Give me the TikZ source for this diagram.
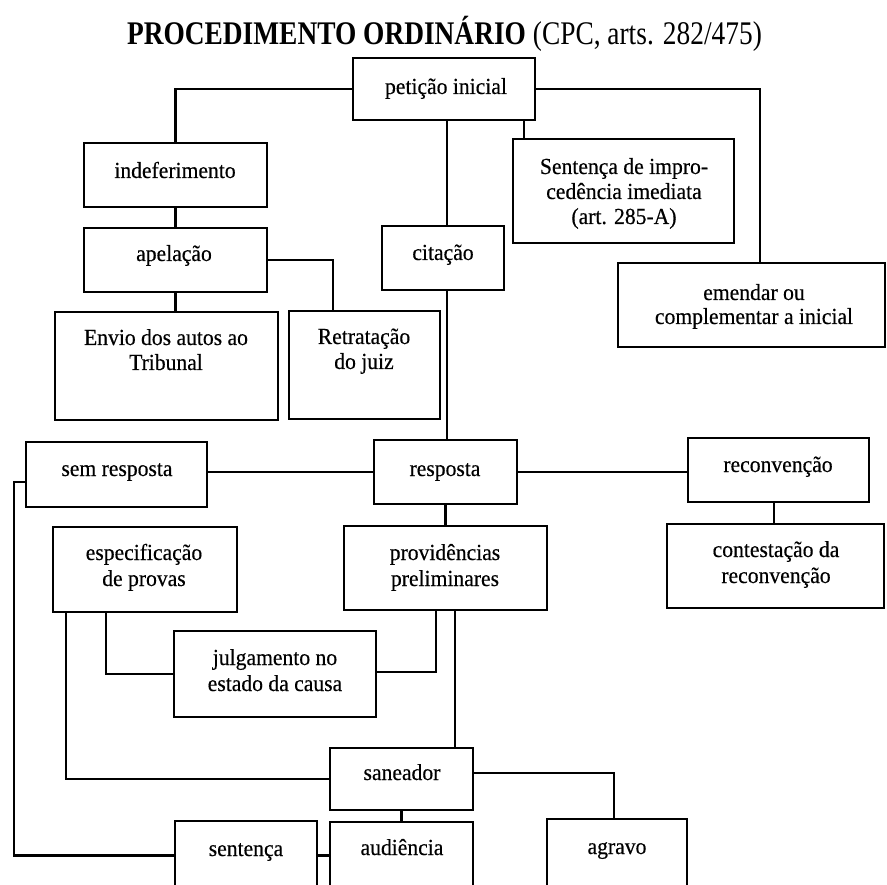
\documentclass[tikz,border=0pt]{standalone}
\usepackage{fontspec}
\setmainfont[FakeStretch=0.94,FakeBold=0.4]{Liberation Serif}
\newfontfamily\titlefont[FakeStretch=0.83]{Liberation Serif}
\usetikzlibrary{fit}
\newcommand\boxfont{\fontsize{23}{25}\selectfont}
\begin{document}
\begin{tikzpicture}[x=1pt,y=-1pt,
  box/.style={draw, line width=2.6pt, inner sep=0pt, outer sep=0pt},
  conn/.style={draw, line width=2.3pt},
  txt/.style={font=\boxfont, inner sep=0pt, anchor=base, yshift=-2pt}]
\useasboundingbox (0,0) rectangle (887,885);
\clip (0,0) rectangle (887,885);
\fill[white] (0,0) rectangle (887,885);

% title
\node[font=\titlefont\fontsize{33}{36}\selectfont, anchor=base, inner sep=0pt] (title) at (444.5,45)
  {\textbf{PROCEDIMENTO ORDINÁRIO} (CPC, arts. 282/475)};

% boxes
\node[box, fit={(353,58) (535,120)}] (pet) {};
\node[box, fit={(84,143) (267,207)}] (indef) {};
\node[box, fit={(84,228) (267,292)}] (apel) {};
\node[box, fit={(55,312) (278,420)}] (envio) {};
\node[box, fit={(289,311) (440,419)}] (retr) {};
\node[box, fit={(382,226) (504,290)}] (cit) {};
\node[box, fit={(513,139) (734,243)}] (sent) {};
\node[box, fit={(618,263) (885,347)}] (emend) {};
\node[box, fit={(26,442) (207,507)}] (semr) {};
\node[box, fit={(374,440) (517,504)}] (resp) {};
\node[box, fit={(688,438) (869,502)}] (recon) {};
\node[box, fit={(667,524) (884,608)}] (contest) {};
\node[box, fit={(53,527) (237,612)}] (espec) {};
\node[box, fit={(344,526) (547,610)}] (prov) {};
\node[box, fit={(174,631) (376,717)}] (julg) {};
\node[box, fit={(330,748) (473,810)}] (san) {};
\node[box, fit={(175,821) (317,890)}] (sentenca) {};
\node[box, fit={(330,822) (473,890)}] (aud) {};
\node[box, fit={(547,819) (687,890)}] (agravo) {};

% texts
\node[txt] (pet-t) at (446,92) {petição inicial};
\node[txt] (indef-t) at (175,176) {indeferimento};
\node[txt] (apel-t) at (174,259) {apelação};
\node[txt] (envio-t1) at (166,343) {Envio dos autos ao};
\node[txt] (envio-t2) at (166,368) {Tribunal};
\node[txt] (retr-t1) at (364,342) {Retratação};
\node[txt] (retr-t2) at (364,367) {do juiz};
\node[txt] (cit-t) at (443,258) {citação};
\node[txt] (sent-t1) at (624,172) {Sentença de impro-};
\node[txt] (sent-t2) at (624,197) {cedência imediata};
\node[txt] (sent-t3) at (624,222) {(art. 285-A)};
\node[txt] (emend-t1) at (754,298) {emendar ou};
\node[txt] (emend-t2) at (754,322) {complementar a inicial};
\node[txt] (semr-t) at (117,474) {sem resposta};
\node[txt] (resp-t) at (445,474) {resposta};
\node[txt] (recon-t) at (778,470) {reconvenção};
\node[txt] (contest-t1) at (776,555) {contestação da};
\node[txt] (contest-t2) at (776,581) {reconvenção};
\node[txt] (espec-t1) at (144,558) {especificação};
\node[txt] (espec-t2) at (144,584) {de provas};
\node[txt] (prov-t1) at (445,558) {providências};
\node[txt] (prov-t2) at (445,584) {preliminares};
\node[txt] (julg-t1) at (275,663) {julgamento no};
\node[txt] (julg-t2) at (275,689) {estado da causa};
\node[txt] (san-t) at (402,778) {saneador};
\node[txt] (sentenca-t) at (246,854) {sentença};
\node[txt] (aud-t) at (402,853) {audiência};
\node[txt] (agravo-t) at (617,852) {agravo};

% connectors
\draw[conn] (pet.west) -| (indef.north);
\draw[conn] (pet.east) -| ([xshift=8.5pt]emend.north);
\draw[conn] ([xshift=3pt]pet.south) -- ([xshift=3pt]pet.south |- cit.north);
\draw[conn] ([xshift=80pt]pet.south) -- ([xshift=80pt]pet.south |- sent.north);
\draw[conn] (indef.south) -- (apel.north);
\draw[conn] (apel.south) -- (apel.south |- envio.north);
\draw[conn] (apel.east) -| ([xshift=-31.5pt]retr.north);
\draw[conn] ([xshift=4pt]cit.south) -- ([xshift=4pt]cit.south |- resp.north);
\draw[conn] (resp.west) -- (resp.west -| semr.east);
\draw[conn] (resp.east) -- (resp.east -| recon.west);
\draw[conn] ([xshift=-4.5pt]recon.south) -- ([xshift=-4.5pt]recon.south |- contest.north);
\draw[conn] (resp.south) -- (resp.south |- prov.north);
\draw[conn] ([yshift=-7.5pt]semr.west) -- ++(-12,0) |- (sentenca.west);
\draw[conn] ([xshift=-39pt]espec.south) |- (julg.west);
\draw[conn] ([xshift=-79pt]espec.south) |- (san.west);
\draw[conn] ([yshift=2pt]julg.east) -| ([xshift=-9.5pt]prov.south);
\draw[conn] ([xshift=9.5pt]prov.south) -- ([xshift=9.5pt]prov.south |- san.north);
\draw[conn] ([yshift=6pt]san.east) -| ([xshift=-3pt]agravo.north);
\draw[conn] (san.south) -- (aud.north);
\draw[conn] (sentenca.east) -- (sentenca.east -| aud.west);
\end{tikzpicture}
\end{document}
